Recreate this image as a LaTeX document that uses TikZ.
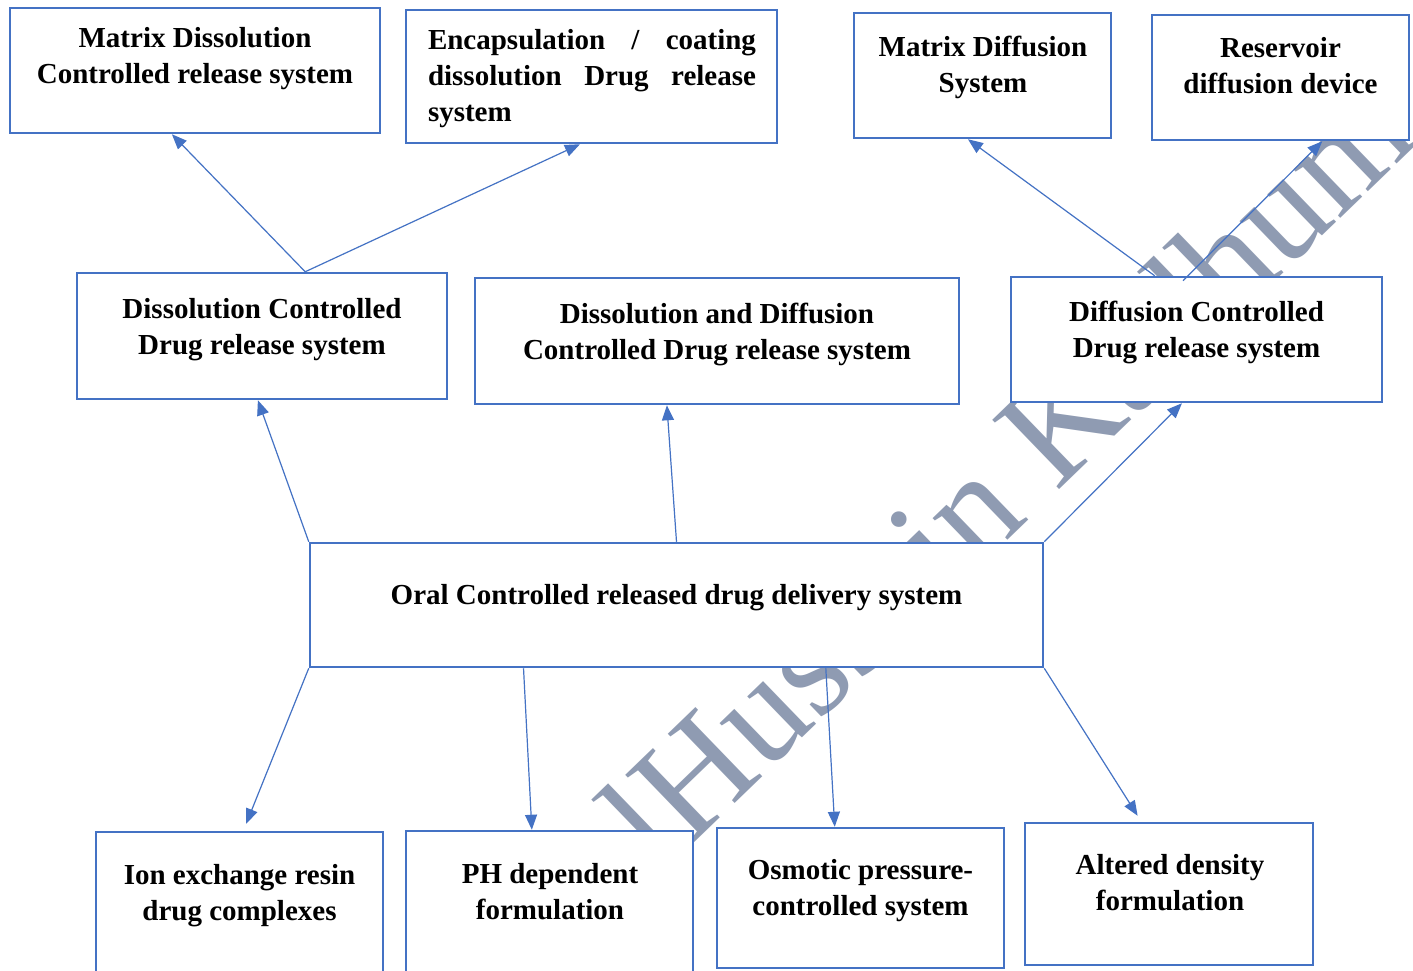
\documentclass[tikz,border=0pt]{standalone}
\usepackage{fontspec}
\setmainfont{Liberation Serif}
\usetikzlibrary{arrows.meta,calc}
\definecolor{bxblue}{HTML}{4472C4}
\definecolor{wmgray}{RGB}{143,155,178}
\begin{document}
\begin{tikzpicture}[x=1pt,y=-1pt,
  box/.style={draw=bxblue, line width=2.5pt, fill=white, inner sep=0pt},
  txt/.style={font=\fontsize{29}{36}\selectfont\bfseries, align=center, inner sep=0pt},
  arr/.style={draw=bxblue, line width=1.2pt, -{Triangle[length=15pt,width=12pt]}},
  wm/.style={font=\fontsize{147}{150}\selectfont, text=wmgray, inner sep=0pt}]
\fill[white] (0,0) rectangle (1413,970);
\useasboundingbox (0,0) rectangle (1413,970);

% watermark
\node[wm, rotate=44, anchor=base west] (wmk) at (660,876) {lHussain Kadhum};

% boxes
\node[box, minimum width=370pt, minimum height=125pt] (md)  at (195,70.5) {};
\node[box, minimum width=371pt, minimum height=133pt] (enc) at (591.5,76.5) {};
\node[box, minimum width=257pt, minimum height=125pt] (mdf) at (982.5,75.5) {};
\node[box, minimum width=257pt, minimum height=125pt] (res) at (1280.5,77.5) {};
\node[box, minimum width=370pt, minimum height=126pt] (dc)  at (262,336) {};
\node[box, minimum width=484pt, minimum height=126pt] (ddc) at (717,341) {};
\node[box, minimum width=371pt, minimum height=125pt] (dfc) at (1196.5,339.5) {};
\node[box, minimum width=733pt, minimum height=124pt] (oral) at (676.5,605) {};
\node[box, minimum width=287pt, minimum height=158pt] (ion) at (239.5,911) {};
\node[box, minimum width=287pt, minimum height=159pt] (ph)  at (549.5,910.5) {};
\node[box, minimum width=287pt, minimum height=140pt] (osm) at (860.5,898) {};
\node[box, minimum width=288pt, minimum height=142pt] (alt) at (1169,894) {};

% texts
\node[txt] (tmd) at (195,58) {\strut Matrix Dissolution\\Controlled release system\strut};
\node[txt, text width=328pt, align=justify] (tenc) at (592,78) {\strut Encapsulation / coating\linebreak dissolution Drug release\linebreak system\strut};
\node[txt] (tmdf) at (983,67) {\strut Matrix Diffusion\\System\strut};
\node[txt] (tres) at (1280.5,68) {\strut Reservoir\\diffusion device\strut};
\node[txt] (tdc) at (262,329) {\strut Dissolution Controlled\\Drug release system\strut};
\node[txt] (tddc) at (717,334) {\strut Dissolution and Diffusion\\Controlled Drug release system\strut};
\node[txt] (tdfc) at (1196.5,332) {\strut Diffusion Controlled\\Drug release system\strut};
\node[txt] (toral) at (676.5,597) {\strut Oral Controlled released drug delivery system};
\node[txt] (tion) at (239.5,895) {\strut Ion exchange resin\\drug complexes\strut};
\node[txt] (tph) at (550,894) {\strut PH dependent\\formulation\strut};
\node[txt] (tosm) at (860.5,890) {\strut Osmotic pressure-\\controlled system\strut};
\node[txt] (talt) at (1170,885) {\strut Altered density\\formulation\strut};

% connectors
\draw[arr] ($(dc.north west)!0.616!(dc.north east)$) -- ($(md.south west)!0.438!(md.south east)$);
\draw[arr] ($(dc.north west)!0.616!(dc.north east)$) -- ($(enc.south west)!0.469!(enc.south east)$);
\draw[arr] (oral.north west) -- ($(dc.south west)!0.489!(dc.south east)$);
\draw[arr] (oral.north) -- ($(ddc.south west)!0.397!(ddc.south east)$);
\draw[arr] (oral.north east) -- ($(dfc.south west)!0.461!(dfc.south east)$);
\draw[arr] ($(dfc.north west)!0.388!(dfc.north east)$) -- ($(mdf.south west)!0.444!(mdf.south east)$);
\draw[arr] ($(dfc.north west)!0.464!(dfc.north east)+(0,5)$) -- ($(res.south west)!0.661!(res.south east)$);
\draw[arr] (oral.south west) -- ($(ion.north west)!0.523!(ion.north east)+(0,-7)$);
\draw[arr] ($(oral.south west)!0.292!(oral.south east)$) -- ($(ph.north west)!0.439!(ph.north east)$);
\draw[arr] ($(oral.south west)!0.703!(oral.south east)$) -- ($(osm.north west)!0.411!(osm.north east)$);
\draw[arr] (oral.south east) -- ($(alt.north west)!0.392!(alt.north east)+(0,-6)$);
\end{tikzpicture}
\end{document}
